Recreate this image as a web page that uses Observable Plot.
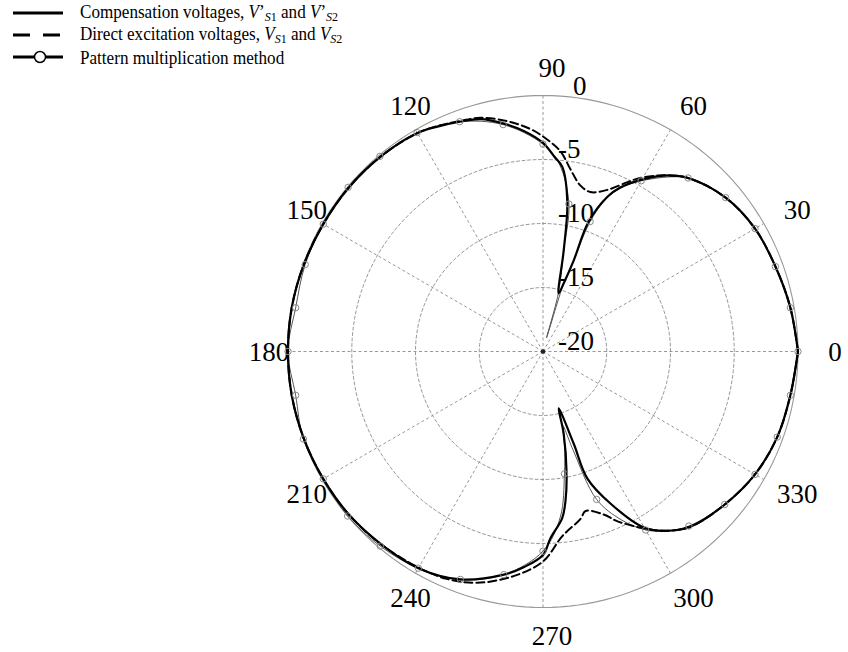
<!DOCTYPE html>
<html>
<head>
<meta charset="utf-8">
<script src="https://cdn.jsdelivr.net/npm/d3@7"></script>
<script src="https://cdn.jsdelivr.net/npm/@observablehq/plot@0.6"></script>
<style>
  body { margin: 0; background: #fff; }
  #wrap { position: relative; width: 848px; height: 652px; font-family: "Liberation Serif", "Times New Roman", serif; }
  #wrap svg.plot { position: absolute; left: 0; top: 0; }
  #legend { position: absolute; left: 0; top: 0; font-size: 19px; line-height: 1; color: #000; }
  .row { position: absolute; left: 12px; height: 18px; display: flex; align-items: center; white-space: nowrap; }
  .row svg { margin-right: 16px; flex: none; }
  .row span.lbl { display: inline-block; line-height: 1; transform: scaleX(0.9); transform-origin: 0 50%; }
  .sub { font-size: 0.7em; line-height: 1; vertical-align: -0.22em; }
</style>
</head>
<body>
<div id="wrap"><div id="legend"></div></div>
<script>
// Radial range in dB: centre of the plot is -20 dB, outer circle is 0 dB
const rMin = -20, rMax = 0;

// Grid levels and angular ticks
const ringLevels = [-15, -10, -5];
const ringLabels = [0, -5, -10, -15, -20];
const angleTicks = [0, 30, 60, 90, 120, 150, 180, 210, 240, 270, 300, 330];

// Compensation voltages V'S1, V'S2 (thick solid)
const compAngle = [0, 10, 20, 30, 40, 50, 55.4, 60.4, 64.6, 67.3, 70.6, 71.3, 73, 74.9, 78.4, 80.7, 84, 86.5, 90,
  95, 100, 105, 110, 115, 120, 130, 140, 150, 160, 170, 180, 190, 200, 210, 220, 230, 240, 250, 260, 265, 270,
  272.3, 276.6, 278.6, 281, 284.2, 285.5, 288.5, 289.3, 294, 300, 304.5, 310, 320, 330, 340, 350, 360];
const compDb = [0, -0.3, -0.6, -0.8, -1.3, -2.3, -3.3, -4.6, -5.8, -6.9, -9.3, -12.5, -14.4, -15.3, -11.9, -8.2, -5.5, -4.8, -3.7,
  -2.7, -1.9, -1.2, -0.9, -0.6, -0.3, -0.15, -0.1, -0.1, -0.05, 0, 0, 0, -0.05, -0.1, -0.15, -0.3, -0.45, -1.05, -2.3, -3.1, -4.1,
  -5.4, -6.9, -8.2, -10.3, -13.4, -15.4, -12.4, -9.5, -7.0, -4.1, -3.0, -2.1, -1.4, -0.8, -0.45, -0.3, 0];

// Direct excitation voltages VS1, VS2 (dashed)
const directAngle = [0, 10, 20, 30, 40, 50, 55, 60.5, 63.4, 68.2, 73.4, 77.3, 81.4, 85, 88.8, 93.2, 98.8, 105, 110, 115, 120,
  130, 140, 150, 160, 170, 180, 190, 200, 210, 220, 230, 240, 247, 254, 262.5, 270, 276, 282.7, 285, 290.5, 293.8, 299.3,
  304.5, 310, 320, 330, 340, 350, 360];
const directDb = [0, -0.3, -0.6, -0.8, -1.3, -2.3, -3.2, -4.4, -5.2, -6.4, -7.0, -6.7, -5.6, -4.3, -3.45, -2.6, -1.8, -1.1, -0.85, -0.55, -0.3,
  -0.15, -0.1, -0.1, -0.05, 0, 0, 0, -0.05, -0.1, -0.15, -0.3, -0.5, -0.7, -1.2, -2.3, -3.6, -5.5, -6.6, -7.1, -6.4, -5.5, -4.2,
  -3.0, -2.1, -1.4, -0.8, -0.45, -0.3, 0];

// Pattern multiplication method (thin line, markers every 10 degrees)
const pmAngle = [0, 10, 20, 30, 40, 50, 60, 64.6, 67.3, 70, 71.3, 73, 75.4, 75.2, 78.4, 80, 85, 90,
  100, 110, 120, 130, 140, 150, 160, 170, 180, 190, 200, 210, 220, 230, 240, 250, 260, 270,
  276, 280, 283, 285, 287, 290, 295, 300, 305, 310, 320, 330, 340, 350, 360];
const pmDb = [0, -0.3, -0.6, -0.8, -1.3, -2.3, -4.6, -5.9, -7.0, -9.2, -12.5, -14.4, -18.9, -15.3, -11.9, -8.3, -5.3, -3.8,
  -2.0, -0.9, -0.25, -0.1, -0.05, -0.1, -0.15, -0.3, 0, -0.3, 0, -0.1, 0, -0.15, -0.45, -1.05, -2.3, -4.4,
  -7.0, -10.3, -12.5, -14.0, -12.0, -7.7, -5.5, -3.9, -2.9, -2.2, -1.4, -0.8, -0.45, -0.3, 0];

// Legend entries
const legendNames = [
  "Compensation voltages, <i>V</i>\u2019<span class='sub'><i>S</i>1</span> and <i>V</i>\u2019<span class='sub'><i>S</i>2</span>",
  "Direct excitation voltages, <i>V</i><span class='sub'><i>S</i>1</span> and <i>V</i><span class='sub'><i>S</i>2</span>",
  "Pattern multiplication method"
];

// polar (degrees, dB) -> unit-disc cartesian
const rad = d => d * Math.PI / 180;
const rn = db => Math.max(0, (db - rMin) / (rMax - rMin));
const series = (angles, dbs) => angles.map((a, i) => ({a, db: dbs[i], x: rn(dbs[i]) * Math.cos(rad(a)), y: rn(dbs[i]) * Math.sin(rad(a))}));

const comp = series(compAngle, compDb);
const direct = series(directAngle, directDb);
const pm = series(pmAngle, pmDb);
const pmMarks = pm.filter(d => d.a % 10 === 0 && d.a < 360);

const circle = level => d3.range(0, 361, 2).map(a => ({level, x: rn(level) * Math.cos(rad(a)), y: rn(level) * Math.sin(rad(a))}));
const rings = ringLevels.flatMap(circle);
const outer = circle(rMax);

const labelR = 1.11;
const gridStroke = "#8c8c8c";

const chart = Plot.plot({
  width: 848,
  height: 652,
  margin: 0,
  x: {domain: [-542.5 / 255, 305.5 / 255], axis: null},
  y: {domain: [-301 / 256, 351 / 256], axis: null},
  style: {background: "transparent", fontFamily: "'Liberation Serif', 'Times New Roman', serif"},
  marks: [
    Plot.line(rings, {x: "x", y: "y", z: "level", stroke: gridStroke, strokeWidth: 0.9, strokeDasharray: "3,2.5"}),
    Plot.link(angleTicks, {x1: () => 0, y1: () => 0, x2: a => Math.cos(rad(a)), y2: a => Math.sin(rad(a)),
      stroke: gridStroke, strokeWidth: 0.9, strokeDasharray: "3,2.5"}),
    Plot.line(outer, {x: "x", y: "y", stroke: "#999", strokeWidth: 1.1}),
    Plot.dot([0], {x: () => 0, y: () => 0, r: 2.2, fill: "#222"}),
    Plot.text(angleTicks, {x: a => labelR * Math.cos(rad(a)), y: a => labelR * Math.sin(rad(a)), text: a => String(a),
      dx: 9, dy: 1, fontSize: 27, fill: "#000"}),
    Plot.text(ringLabels.filter(v => v !== 0), {x: () => 0, y: v => rn(v), text: v => String(v), textAnchor: "start",
      dx: 15, dy: -10, fontSize: 27, fill: "#000"}),
    Plot.text(ringLabels.filter(v => v === 0), {x: () => 0, y: v => rn(v), text: v => String(v), textAnchor: "start",
      dx: 30, dy: -9, fontSize: 27, fill: "#000"}),
    Plot.line(pm, {x: "x", y: "y", stroke: "#555", strokeWidth: 1, curve: "catmull-rom"}),
    Plot.line(direct, {x: "x", y: "y", stroke: "#000", strokeWidth: 2, strokeDasharray: "8,4", curve: "catmull-rom"}),
    Plot.line(comp, {x: "x", y: "y", stroke: "#000", strokeWidth: 2.2, curve: "catmull-rom"}),
    Plot.dot(pmMarks, {x: "x", y: "y", r: 3.2, stroke: "#888", strokeWidth: 1, fill: "none"})
  ]
});
chart.classList.add("plot");
const wrap = document.getElementById("wrap");
wrap.insertBefore(chart, wrap.firstChild);

// Legend swatches
const swatches = [
  `<line x1="1" y1="7" x2="51" y2="7" stroke="#000" stroke-width="3"/>`,
  `<line x1="1" y1="7" x2="51" y2="7" stroke="#000" stroke-width="3" stroke-dasharray="17,13"/>`,
  `<line x1="1" y1="7" x2="51" y2="7" stroke="#000" stroke-width="3"/><circle cx="28" cy="7" r="5.5" fill="#fff" stroke="#000" stroke-width="1.5"/>`
];
const rowTops = [4, 26, 48];
document.getElementById("legend").innerHTML = legendNames.map((name, i) =>
  `<div class="row" style="top:${rowTops[i]}px"><svg width="52" height="14">${swatches[i]}</svg><span class="lbl">${name}</span></div>`
).join("");
</script>
</body>
</html>
